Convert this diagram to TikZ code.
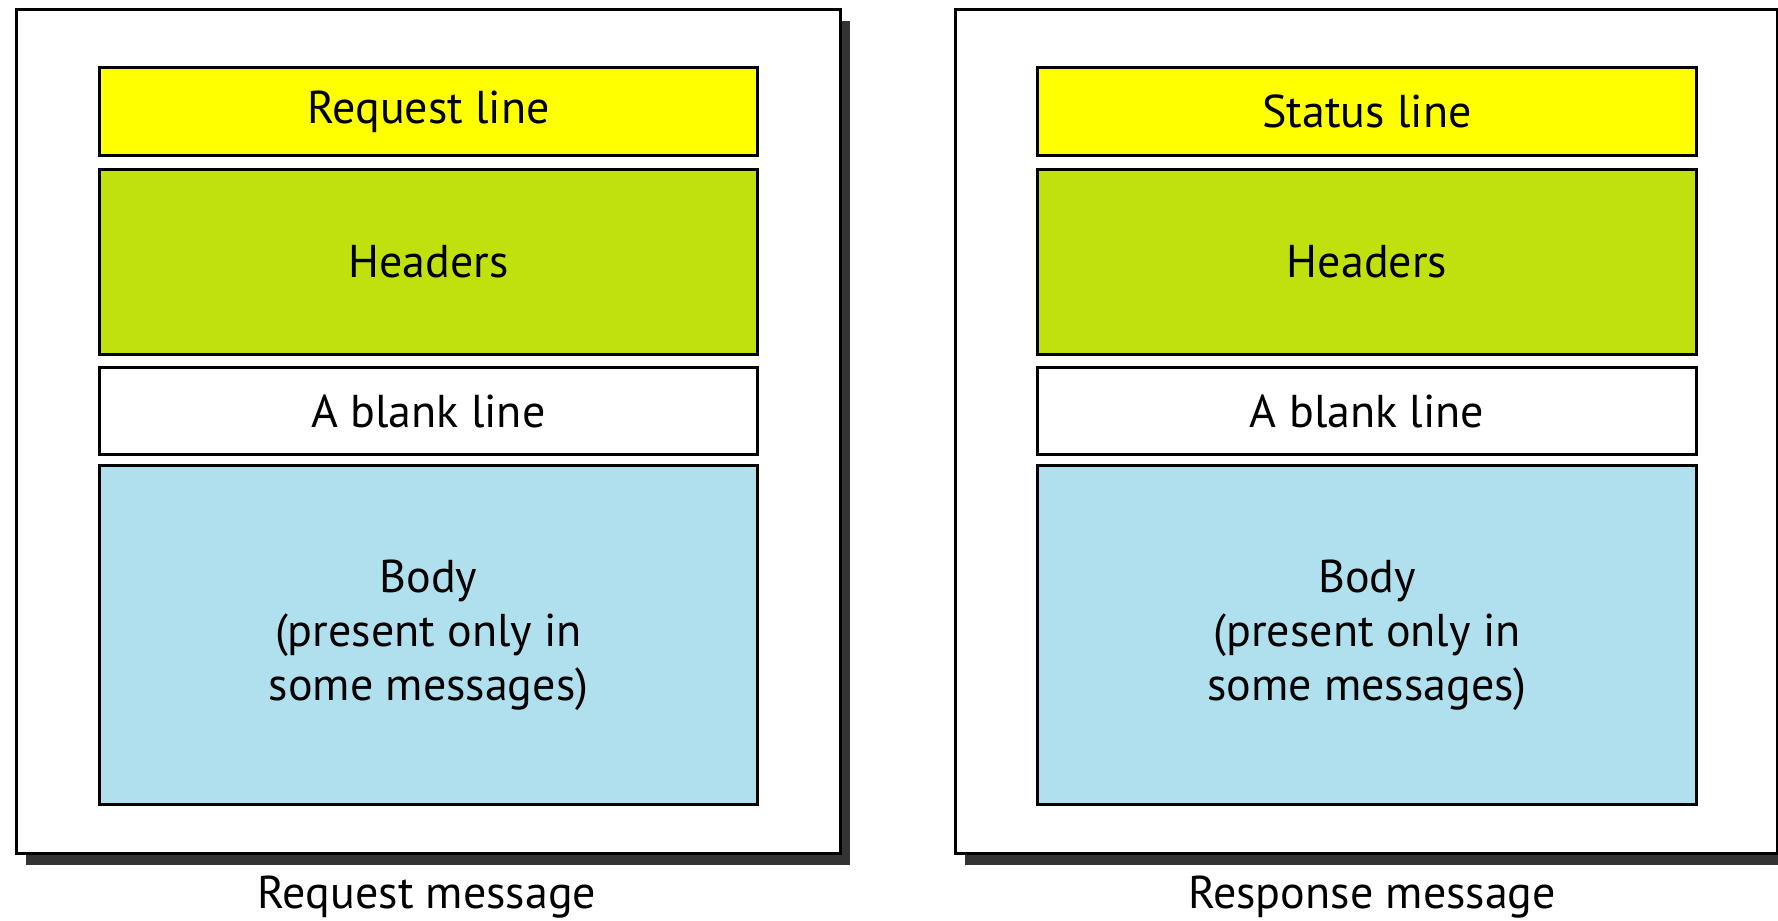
\documentclass[tikz,border=0pt]{standalone}
\usepackage{fontspec}
\setmainfont{PT Sans}
\usetikzlibrary{shadows}
\definecolor{ylw}{RGB}{255,255,0}
\definecolor{grn}{RGB}{193,225,14}
\definecolor{blu}{RGB}{176,224,238}
\definecolor{shd}{RGB}{51,51,51}
\begin{document}
\begin{tikzpicture}[x=1pt,y=-1pt,
  outerbox/.style={draw=black, line width=3pt, fill=white, anchor=north west, inner sep=0pt,
    drop shadow={shadow xshift=9pt, shadow yshift=-11pt, fill=shd, opacity=1}},
  part/.style={draw=black, line width=3pt, anchor=north west, inner sep=0pt, align=center,
    font=\fontsize{46}{54}\selectfont},
  caption/.style={anchor=base, font=\fontsize{46}{54}\selectfont}]
\useasboundingbox (0,0) rectangle (1778,921);
% request message
\node[outerbox, minimum width=824, minimum height=844] (reqbox) at (15,8) {};
\node[part, fill=ylw, minimum width=658, minimum height=88] (reqline) at (98,66) {Request line};
\node[part, fill=grn, minimum width=658, minimum height=185] (reqhead) at (98,168) {Headers};
\node[part, fill=white, minimum width=658, minimum height=87] (reqblank) at (98,366) {A blank line};
\node[part, fill=blu, minimum width=658, minimum height=339] (reqbody) at (98,464) {Body\\(present only in\\some messages)};
\node[caption] (reqcap) at (427,908) {Request message};
% response message
\node[outerbox, minimum width=822, minimum height=844] (resbox) at (954,8) {};
\node[part, fill=ylw, minimum width=659, minimum height=88] (resline) at (1036,66) {Status line};
\node[part, fill=grn, minimum width=659, minimum height=185] (reshead) at (1036,168) {Headers};
\node[part, fill=white, minimum width=659, minimum height=87] (resblank) at (1036,366) {A blank line};
\node[part, fill=blu, minimum width=659, minimum height=339] (resbody) at (1036,464) {Body\\(present only in\\some messages)};
\node[caption] (rescap) at (1372,908) {Response message};
\end{tikzpicture}
\end{document}
